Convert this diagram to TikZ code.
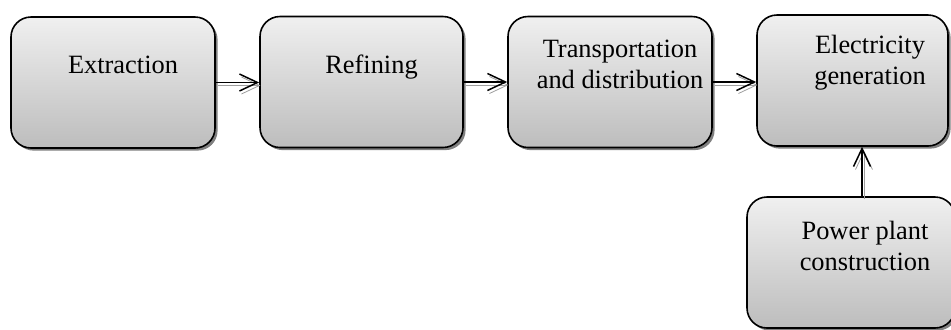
\documentclass[tikz,border=0pt]{standalone}
\usepackage{fontspec}
\setmainfont{Liberation Serif}
\usetikzlibrary{arrows.meta, positioning, shadows}

\begin{document}
\begin{tikzpicture}[x=0.5pt, y=-0.5pt,
	stage/.style={rectangle, draw=black, line width=0.8pt, rounded corners=10pt,
	              top color=black!6, bottom color=black!26, minimum height=65.5pt,
	              inner sep=0pt,
	              drop shadow={shadow xshift=1.3pt, shadow yshift=-1.3pt, fill=black!50, opacity=1}},
	txt/.style={align=center, anchor=base, inner sep=0pt, font=\fontsize{13.2}{15.5}\selectfont},
	arr/.style={-{Straight Barb[length=9pt, width=8.5pt]}, line width=0.75pt, draw=black,
	            preaction={draw=black!38, transform canvas={shift={(1pt,-1.5pt)}}}}
	]
\useasboundingbox (0,0) rectangle (951,329);

\node[stage, minimum width=102pt]   (b1) at (113,82.5)   {};
\node[stage, minimum width=101.5pt] (b2) at (361.5,82)   {};
\node[stage, minimum width=102pt]   (b3) at (610,82)     {};
\node[stage, minimum width=95.5pt]  (b4) at (852.5,80.5) {};
\node[stage, minimum width=104pt]   (b5) at (851,262.5)  {};

% base anchor sits on the last line
\node[txt] (t1) at (123,73)   {Extraction};
\node[txt] (t2) at (371.5,73) {Refining};
\node[txt] (t3) at (620,88)   {Transportation\\and distribution};
\node[txt] (t4) at (870,84)   {Electricity\\generation};
\node[txt] (t5) at (865,270)  {Power plant\\construction};

\foreach \a/\b in {b1/b2, b2/b3, b3/b4}
  \draw[arr] (\a.east) -- (\a.east -| \b.west);
\draw[arr] ([xshift=5.5pt]b5.north) -- ([xshift=5.5pt]b5.north |- b4.south);
\end{tikzpicture}
\end{document}
